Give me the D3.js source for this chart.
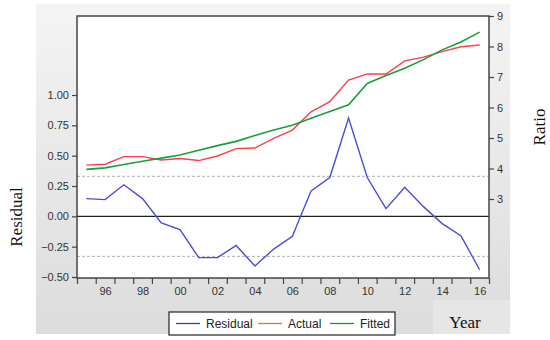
<!DOCTYPE html>
<html>
<head>
    <meta charset="utf-8">
    <script src="https://d3js.org/d3.v7.min.js"></script>
    <style>
        body { margin: 0; background: #fff; }
        text { font-family: "Liberation Sans", Arial, sans-serif; }
    </style>
</head>
<body>
</body>
<script>
    // values
    let years = d3.range(1995, 2017);
    let residual = [0.146, 0.138, 0.26, 0.146, -0.055, -0.11, -0.34, -0.34, -0.24, -0.41,
                    -0.27, -0.165, 0.21, 0.32, 0.81, 0.32, 0.063, 0.24, 0.08, -0.06, -0.16, -0.44];
    let actual = [4.11, 4.14, 4.39, 4.39, 4.28, 4.33, 4.26, 4.41, 4.65, 4.67,
                  4.99, 5.26, 5.86, 6.19, 6.90, 7.10, 7.10, 7.53, 7.65, 7.83, 7.99, 8.05];
    let fitted = [3.97, 4.02, 4.13, 4.24, 4.34, 4.44, 4.60, 4.75, 4.89, 5.08,
                  5.26, 5.42, 5.65, 5.87, 6.09, 6.79, 7.05, 7.29, 7.57, 7.89, 8.15, 8.47];
    let leftTicks = [-0.5, -0.25, 0, 0.25, 0.5, 0.75, 1.0];
    let rightTicks = [3, 4, 5, 6, 7, 8, 9];
    let labelYears = [1996, 1998, 2000, 2002, 2004, 2006, 2008, 2010, 2012, 2014, 2016];
    let stdBand = 0.33;

    let width = 550, height = 340;
    let plotL = 77, plotR = 489, plotT = 16, plotB = 278;

    let svg = d3.select("body").append("svg")
        .attr("width", width)
        .attr("height", height);

    let defs = svg.append("defs");
    let grad = defs.append("linearGradient").attr("id", "bg")
        .attr("x1", 0).attr("y1", 0).attr("x2", 0).attr("y2", 1);
    grad.append("stop").attr("offset", "0%").attr("stop-color", "#f4f4f4");
    grad.append("stop").attr("offset", "100%").attr("stop-color", "#dcdcdc");

    // grey panel
    svg.append("rect")
        .attr("x", 36).attr("y", 4)
        .attr("width", 474).attr("height", 330)
        .attr("fill", "url(#bg)");
    svg.append("rect")
        .attr("x", 433).attr("y", 300)
        .attr("width", 77).attr("height", 34)
        .attr("fill", "#e6e6e6");

    let x = d3.scaleLinear().domain([1995, 2017]).range([plotL, plotR]);
    let yL = d3.scaleLinear().domain([-0.5, 1.0]).range([plotB - 1, 95]);
    let yR = d3.scaleLinear().domain([9, 3]).range([plotT, 199]);

    svg.append("rect")
        .attr("x", plotL).attr("y", plotT)
        .attr("width", plotR - plotL).attr("height", plotB - plotT)
        .attr("fill", "#fff");

    // std error bands
    [stdBand, -stdBand].forEach(v => {
        svg.append("line")
            .attr("x1", plotL).attr("x2", plotR)
            .attr("y1", yL(v)).attr("y2", yL(v))
            .attr("stroke", "#b0b0b0")
            .attr("stroke-dasharray", "3,2");
    });
    svg.append("line")
        .attr("x1", plotL).attr("x2", plotR)
        .attr("y1", yL(0)).attr("y2", yL(0))
        .attr("stroke", "#222").attr("stroke-width", 1.3);

    let px = d => x(d + 0.5);

    let lineL = d3.line().x((d, i) => px(years[i])).y(d => yL(d));
    let lineR = d3.line().x((d, i) => px(years[i])).y(d => yR(d));

    svg.append("path").datum(residual)
        .attr("fill", "none").attr("stroke", "#4b4bdb").attr("stroke-width", 1.4)
        .attr("d", lineL);
    svg.append("path").datum(actual)
        .attr("fill", "none").attr("stroke", "#ff3c4c").attr("stroke-width", 1.4)
        .attr("d", lineR);
    svg.append("path").datum(fitted)
        .attr("fill", "none").attr("stroke", "#17a03c").attr("stroke-width", 1.6)
        .attr("d", lineR);

    // frame
    svg.append("rect")
        .attr("x", plotL).attr("y", plotT)
        .attr("width", plotR - plotL).attr("height", plotB - plotT)
        .attr("fill", "none").attr("stroke", "#444").attr("stroke-width", 1.5);

    // axes
    let axL = svg.append("g")
        .attr("transform", `translate(${plotL},0)`)
        .call(d3.axisLeft(yL).tickValues(leftTicks).tickFormat(d3.format(".2f")).tickSize(5).tickPadding(3));
    let axR = svg.append("g")
        .attr("transform", `translate(${plotR},0)`)
        .call(d3.axisRight(yR).tickValues(rightTicks).tickFormat(d3.format("d")).tickSize(5).tickPadding(3));
    let axB = svg.append("g")
        .attr("transform", `translate(0,${plotB})`)
        .call(d3.axisBottom(x).tickValues(d3.range(1995, 2018)).tickFormat("").tickSize(6));
    let axBL = svg.append("g")
        .attr("transform", `translate(0,${plotB})`)
        .call(d3.axisBottom(x).tickValues(labelYears.map(d => d + 0.5))
            .tickFormat(d => String(Math.floor(d) % 100).padStart(2, "0")).tickSize(0).tickPadding(9));

    [axL, axR, axB, axBL].forEach(g => {
        g.select(".domain").remove();
        g.selectAll("line").attr("stroke", "#444").attr("stroke-width", 1.2);
        g.selectAll("text")
            .attr("font-family", "'Liberation Sans', Arial, sans-serif")
            .attr("font-size", 11)
            .attr("fill", "#333");
    });

    // legend
    let lg = svg.append("g");
    lg.append("rect")
        .attr("x", 169).attr("y", 312)
        .attr("width", 226).attr("height", 23)
        .attr("fill", "#fff").attr("stroke", "#222").attr("stroke-width", 1.2);
    let items = [
        { name: "Residual", color: "#3b3bdb", x: 176 },
        { name: "Actual", color: "#e0704c", x: 258 },
        { name: "Fitted", color: "#2a8a3a", x: 330 }
    ];
    items.forEach(it => {
        lg.append("line")
            .attr("x1", it.x).attr("x2", it.x + 24)
            .attr("y1", 323.5).attr("y2", 323.5)
            .attr("stroke", it.color).attr("stroke-width", 1.3);
        lg.append("text")
            .attr("x", it.x + 30).attr("y", 328)
            .attr("font-size", 12).attr("fill", "#222")
            .text(it.name);
    });

    // axis titles
    svg.append("text")
        .attr("transform", "translate(22,217) rotate(-90)")
        .attr("text-anchor", "middle")
        .style("font-family", "'Liberation Serif', 'Times New Roman', serif")
        .attr("font-size", 17).attr("fill", "#111")
        .text("Residual");
    svg.append("text")
        .attr("transform", "translate(545,127) rotate(-90)")
        .attr("text-anchor", "middle")
        .style("font-family", "'Liberation Serif', 'Times New Roman', serif")
        .attr("font-size", 17).attr("fill", "#111")
        .text("Ratio");
    svg.append("text")
        .attr("x", 465).attr("y", 328)
        .attr("text-anchor", "middle")
        .style("font-family", "'Liberation Serif', 'Times New Roman', serif")
        .attr("font-size", 17).attr("fill", "#111")
        .text("Year");
</script>
</html>
